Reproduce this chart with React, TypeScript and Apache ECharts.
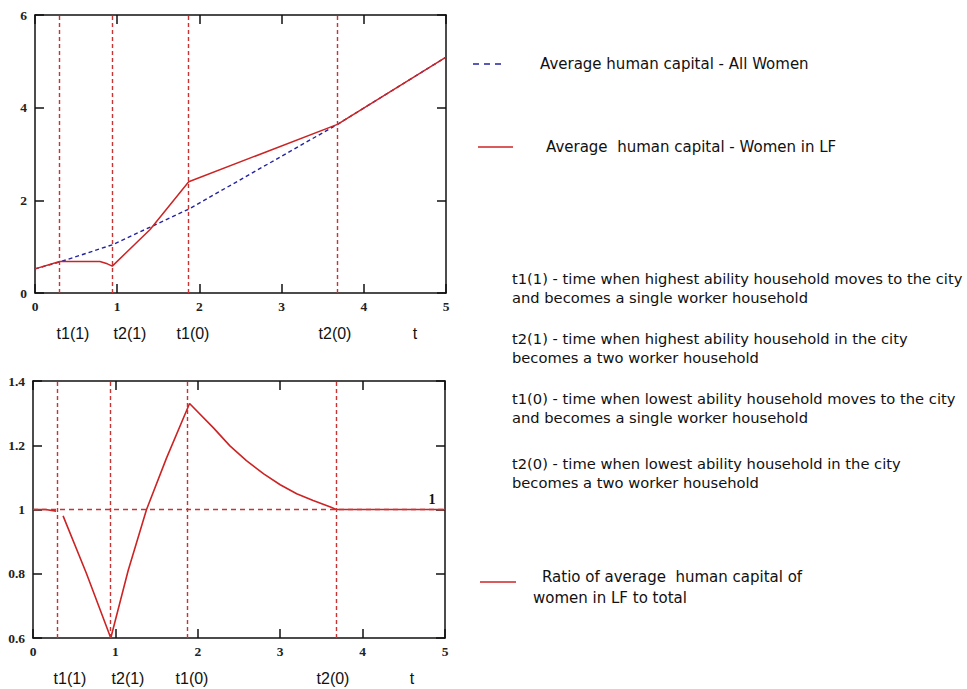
import React, { useEffect, useRef } from 'react';
import * as echarts from 'echarts';

// ---- data ----
const markerTimes = [0.3, 0.94, 1.87, 3.68];
const markerLabels = ['t1(1)', 't2(1)', 't1(0)', 't2(0)', 't'];
const markerLabelXTop = [73, 130, 193, 335, 415];
const markerLabelXBottom = [70, 128, 192, 333, 412];

const allWomenT = [0, 0.3, 0.94, 1.87, 3.68, 5];
const allWomenH = [0.52, 0.67, 1.04, 1.81, 3.64, 5.09];

const womenLFT = [0, 0.3, 0.5, 0.79, 0.88, 0.94, 1.4, 1.87, 3.68, 5];
const womenLFH = [0.52, 0.68, 0.68, 0.68, 0.63, 0.58, 1.37, 2.4, 3.64, 5.09];

const ratioT = [0, 0.15, 0.28, 0.32, 0.365, 0.65, 0.944, 1.155, 1.378, 1.62, 1.9, 2.19, 2.39, 2.59, 2.8, 3.0, 3.2, 3.4, 3.61, 3.68, 5];
const ratioR = [1.0, 1.0, 0.995, null, 0.98, 0.8, 0.6, 0.81, 1.0, 1.16, 1.33, 1.254, 1.198, 1.152, 1.111, 1.077, 1.049, 1.028, 1.008, 1.0, 1.0];

const topYTicks = { min: 0, max: 6, interval: 2 };
const bottomYTicks = { min: 0.6, max: 1.4, interval: 0.2 };

const legendTexts = [
  'Average human capital - All Women',
  'Average  human capital - Women in LF',
];
const descriptionLines = [
  't1(1) - time when highest ability household moves to the city',
  'and becomes a single worker household',
  't2(1) - time when highest ability household in the city',
  'becomes a two worker household',
  't1(0) - time when lowest ability household moves to the city',
  'and becomes a single worker household',
  't2(0) - time when lowest ability household in the city',
  'becomes a two worker household',
];
const ratioLegendLines = ['Ratio of average  human capital of', 'women in LF to total'];

const RED = '#cc2424';
const DASH_RED = '#c83434';
const BLUE = '#2323a0';

export default function App() {
  const ref = useRef<HTMLDivElement>(null);
  useEffect(() => {
    if (!ref.current) return;
    const chart = echarts.init(ref.current, undefined, { renderer: 'svg' });

    const tickLabel = { fontFamily: 'Liberation Serif', fontSize: 13.5, color: '#222', fontWeight: 'bold' as const };
    const mkX = (grid: number, pos: 'bottom' | 'top') => ({
      type: 'value', gridIndex: grid, position: pos, min: 0, max: 5, interval: 1,
      axisLine: { show: true, onZero: false, lineStyle: { color: '#111', width: 1.5 } },
      axisTick: { show: true, inside: true, length: 9, lineStyle: { color: '#111', width: 1.5 } },
      axisLabel: { show: pos === 'bottom', margin: 6, ...tickLabel },
      splitLine: { show: false },
    });
    const mkY = (grid: number, pos: 'left' | 'right', t: any) => ({
      type: 'value', gridIndex: grid, position: pos, min: t.min, max: t.max, interval: t.interval,
      axisLine: { show: true, onZero: false, lineStyle: { color: '#111', width: 1.5 } },
      axisTick: { show: true, inside: true, length: 9, lineStyle: { color: '#111', width: 1.5 } },
      axisLabel: { show: pos === 'left', margin: 8, ...tickLabel, formatter: (v: number) => String(Math.round(v * 10) / 10) },
      splitLine: { show: false },
    });

    const vLines = markerTimes.map((t) => ({ xAxis: t, lineStyle: { color: DASH_RED, type: [4, 3], width: 1.4 } }));
    const hLine = { yAxis: 1, lineStyle: { color: DASH_RED, type: [5, 4], width: 1.4 } };

    const textStyle = (fontSize: number, family = 'DejaVu Sans') => ({ fontSize, fontFamily: family, fill: '#111' });

    const graphic: any[] = [];
    // legend samples
    graphic.push({ type: 'line', shape: { x1: 473, y1: 64, x2: 505, y2: 64 }, style: { stroke: BLUE, lineWidth: 1.3, lineDash: [6, 5] } });
    graphic.push({ type: 'text', x: 540, y: 64, style: { text: legendTexts[0], ...textStyle(15), verticalAlign: 'middle' } });
    graphic.push({ type: 'line', shape: { x1: 478, y1: 147, x2: 513, y2: 147 }, style: { stroke: RED, lineWidth: 1.5 } });
    graphic.push({ type: 'text', x: 546, y: 147, style: { text: legendTexts[1], ...textStyle(15), verticalAlign: 'middle' } });
    // descriptions
    const descY = [278, 297, 338, 357, 398, 417, 463, 482];
    descriptionLines.forEach((s, i) => {
      graphic.push({ type: 'text', x: 512, y: descY[i], style: { text: s, ...textStyle(14.7), verticalAlign: 'middle' } });
    });
    // ratio legend
    graphic.push({ type: 'line', shape: { x1: 480, y1: 582, x2: 516, y2: 582 }, style: { stroke: RED, lineWidth: 1.5 } });
    graphic.push({ type: 'text', x: 542, y: 577, style: { text: ratioLegendLines[0], ...textStyle(15), verticalAlign: 'middle' } });
    graphic.push({ type: 'text', x: 533, y: 598, style: { text: ratioLegendLines[1], ...textStyle(15), verticalAlign: 'middle' } });
    // marker labels
    markerLabels.forEach((s, i) => {
      graphic.push({ type: 'text', x: markerLabelXTop[i], y: 333, style: { text: s, ...textStyle(16, 'Liberation Sans'), align: 'center', verticalAlign: 'middle' } });
      graphic.push({ type: 'text', x: markerLabelXBottom[i], y: 678, style: { text: s, ...textStyle(16, 'Liberation Sans'), align: 'center', verticalAlign: 'middle' } });
    });
    // "1" label at end of ratio curve
    graphic.push({ type: 'text', x: 432, y: 499, style: { text: '1', ...textStyle(14, 'Liberation Serif'), fontWeight: 'bold', align: 'center', verticalAlign: 'middle' } });

    chart.setOption({
      animation: false,
      backgroundColor: '#fff',
      grid: [
        { left: 35, top: 15, width: 411, height: 278, show: false },
        { left: 33, top: 381, width: 412, height: 257, show: false },
      ],
      xAxis: [mkX(0, 'bottom'), mkX(0, 'top'), mkX(1, 'bottom'), mkX(1, 'top')],
      yAxis: [mkY(0, 'left', topYTicks), mkY(0, 'right', topYTicks), mkY(1, 'left', bottomYTicks), mkY(1, 'right', bottomYTicks)],
      series: [
        {
          name: legendTexts[0], type: 'line', xAxisIndex: 0, yAxisIndex: 0, symbol: 'none',
          data: allWomenT.map((t, i) => [t, allWomenH[i]]),
          lineStyle: { color: BLUE, width: 1.4, type: [4, 3] }, z: 3,
        },
        {
          name: legendTexts[1], type: 'line', xAxisIndex: 0, yAxisIndex: 0, symbol: 'none',
          data: womenLFT.map((t, i) => [t, womenLFH[i]]),
          lineStyle: { color: RED, width: 1.5 }, z: 4,
          markLine: { silent: true, symbol: 'none', label: { show: false }, data: vLines },
        },
        {
          name: 'Ratio', type: 'line', xAxisIndex: 2, yAxisIndex: 2, symbol: 'none',
          data: ratioT.map((t, i) => [t, ratioR[i] === null ? '-' : ratioR[i]]),
          lineStyle: { color: RED, width: 1.6 }, z: 4,
          markLine: { silent: true, symbol: 'none', label: { show: false }, data: [...vLines, hLine] },
        },
      ],
      graphic,
    });
    return () => chart.dispose();
  }, []);
  return <div ref={ref} style={{ position: 'fixed', left: 0, top: 0, width: 967, height: 689 }} />;
}
